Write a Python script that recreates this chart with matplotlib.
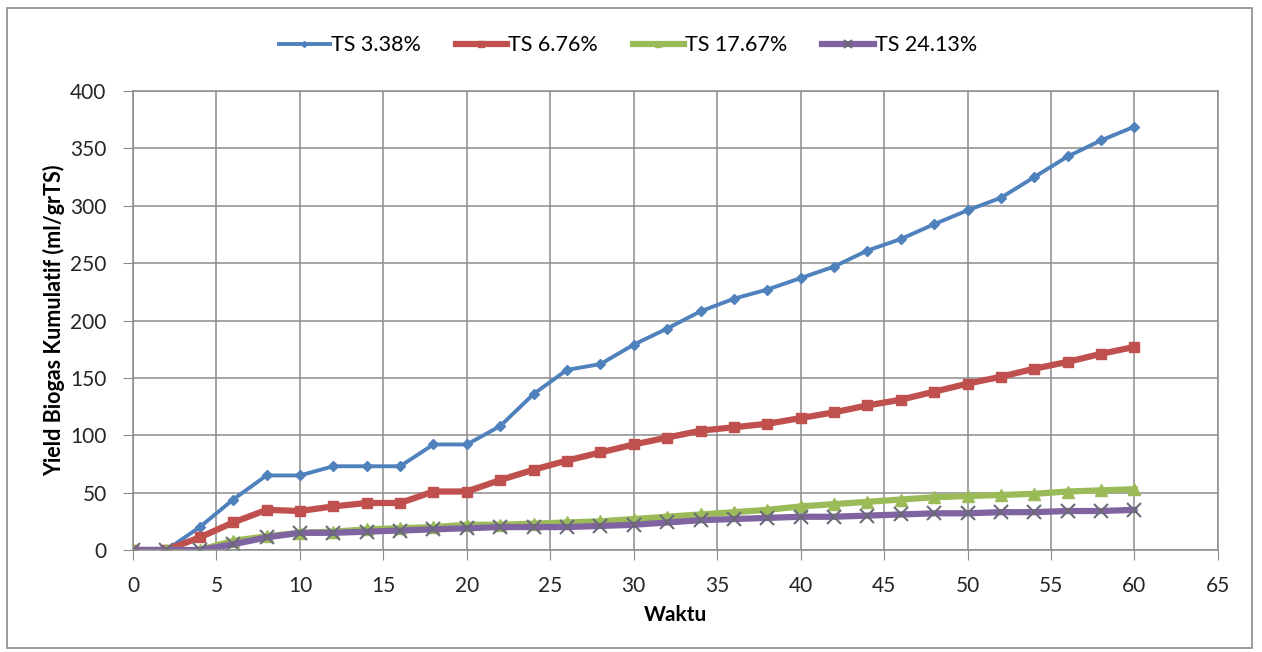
import matplotlib
matplotlib.use("Agg")
import matplotlib.pyplot as plt
from matplotlib.patches import Rectangle

plt.rcParams['font.family'] = ['Lato', 'DejaVu Sans']

waktu = list(range(0, 62, 2))

ts_338 = [0, 0, 20, 44, 65, 65, 73, 73, 73, 92, 92, 108, 136, 157, 162, 179,
          193, 208, 219, 227, 237, 247, 261, 271, 284, 296, 307, 325, 343, 357, 369]
ts_676 = [0, 0, 11, 24, 35, 34, 38, 41, 41, 51, 51, 61, 70, 78, 85, 92,
          98, 104, 107, 110, 115, 120, 126, 131, 138, 145, 151, 158, 164, 171, 177]
ts_1767 = [0, 0, 0, 8, 12, 15, 16, 18, 19, 20, 22, 22, 23, 24, 25, 27,
           29, 31, 33, 35, 38, 40, 42, 44, 46, 47, 48, 49, 51, 52, 53]
ts_2413 = [0, 0, 0, 5, 11, 15, 15, 16, 17, 18, 19, 20, 20, 20, 21, 22,
           24, 26, 27, 28, 29, 29, 30, 31, 32, 32, 33, 33, 34, 34, 35]

labels = ['TS 3.38%', 'TS 6.76%', 'TS 17.67%', 'TS 24.13%']

fig = plt.figure(figsize=(12.62, 6.52), dpi=100)
ax = fig.add_axes([0.1054, 0.1564, 0.8597, 0.704])

# outer chart frame
fig.patches.append(Rectangle((7/1262, 4/652), 1245/1262, 640/652, transform=fig.transFigure,
                             fill=False, edgecolor='#8c8c8c', linewidth=1.2))

ax.plot(waktu, ts_338, color='#4F81BD', lw=2.8, marker='D', ms=5, label=labels[0])
ax.plot(waktu, ts_676, color='#C0504D', lw=4.5, marker='s', ms=7, label=labels[1])
ax.plot(waktu, ts_1767, color='#9BBB59', lw=4.5, marker='^', ms=8, label=labels[2])
ax.plot(waktu, ts_2413, color='#8064A2', lw=4.5, marker='x', ms=10, mew=1.5,
        mec='#6a6a7a', label=labels[3])

ax.set_xlim(0, 65)
ax.set_ylim(0, 400)
ax.set_xticks(range(0, 70, 5))
ax.set_yticks(range(0, 450, 50))
ax.grid(True, color='#8c8c8c', lw=1.1)
ax.set_axisbelow(True)
for s in ax.spines.values():
    s.set_color('#8c8c8c')
    s.set_linewidth(1.1)
ax.tick_params(axis='both', labelsize=15, colors='#8c8c8c', labelcolor='#252525', length=7)
ax.tick_params(axis='x', pad=12)
ax.tick_params(axis='y', pad=12)

ax.set_xlabel('Waktu', fontsize=15, fontweight='bold', labelpad=6)
ax.set_ylabel('Yield Biogas Kumulatif (ml/grTS)', fontsize=15.5, fontweight='bold', labelpad=4)

ax.legend(loc='center', bbox_to_anchor=(0.456, 1.10), ncol=4, frameon=False, fontsize=15.5,
          handlelength=2.4, columnspacing=1.6, handletextpad=0.05, markerscale=0.6)

fig.savefig('out.png', dpi=100)
